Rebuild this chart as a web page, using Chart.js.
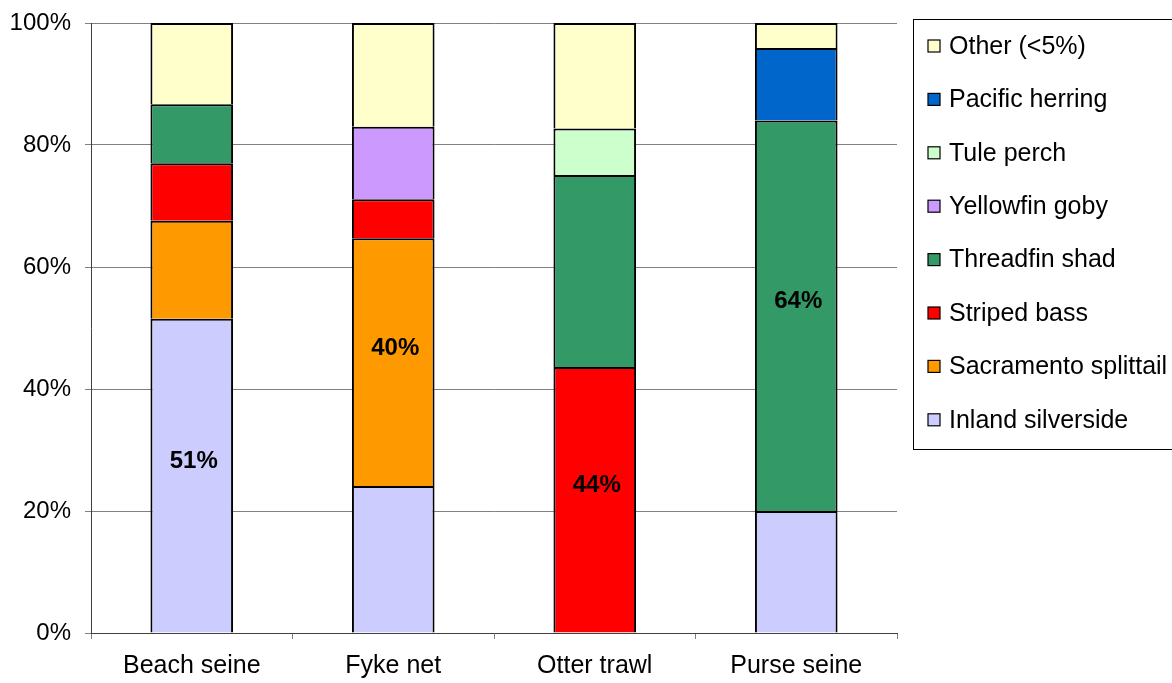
<!DOCTYPE html>
<html>
<head>
<meta charset="utf-8">
<script src="https://cdn.jsdelivr.net/npm/chart.js@4"></script>
<style>
    html, body { margin: 0; padding: 0; background: #fff; }
    #wrap { width: 1172px; height: 683px; }
</style>
</head>
<body>
<div id="wrap"><canvas id="catch-chart" width="1172" height="683"></canvas></div>
<script>
// Species composition by gear type (% of catch)
const gears = ['Beach seine', 'Fyke net', 'Otter trawl', 'Purse seine'];

const inlandSilverside    = [51.5, 24.1, null, 20.0];
const sacramentoSplittail = [16.1, 40.6, null, null];
const stripedBass         = [9.4, 6.4, 43.6, null];
const threadfinShad       = [9.7, null, 31.5, 64.0];
const yellowfinGoby       = [null, 11.9, null, null];
const tulePerch           = [null, null, 7.6, null];
const pacificHerring      = [null, null, null, 11.9];
const otherSpecies        = [13.3, 17.0, 17.3, 4.1];

const yTicks = [0, 20, 40, 60, 80, 100];

// bold labels: which species segment is labelled in each gear column
const labelSeries = [0, 1, 2, 3];
const labelTexts  = ['51%', '40%', '44%', '64%'];

const FONT = '"Liberation Sans", Arial, sans-serif';

const series = [
    { label: 'Inland silverside',    data: inlandSilverside,    color: '#CCCCFF' },
    { label: 'Sacramento splittail', data: sacramentoSplittail, color: '#FF9900' },
    { label: 'Striped bass',         data: stripedBass,         color: '#FF0000' },
    { label: 'Threadfin shad',       data: threadfinShad,       color: '#339966' },
    { label: 'Yellowfin goby',       data: yellowfinGoby,       color: '#CC99FF' },
    { label: 'Tule perch',           data: tulePerch,           color: '#CCFFCC' },
    { label: 'Pacific herring',      data: pacificHerring,      color: '#0066CC' },
    { label: 'Other (<5%)',          data: otherSpecies,        color: '#FFFFCC' }
];

// Draws the bold percentage labels inside the main segments
const segmentLabels = {
    id: 'segmentLabels',
    afterDatasetsDraw(chart) {
        const ctx = chart.ctx;
        ctx.save();
        ctx.font = 'bold 24px ' + FONT;
        ctx.fillStyle = '#000';
        ctx.textAlign = 'center';
        ctx.textBaseline = 'middle';
        labelSeries.forEach((ds, i) => {
            const bar = chart.getDatasetMeta(ds).data[i];
            if (!bar) return;
            const p = bar.getCenterPoint();
            ctx.fillText(labelTexts[i], p.x + 2, p.y - 14);
        });
        ctx.restore();
    }
};

// Boxed legend on the right, topmost series first
const boxLegend = {
    id: 'boxLegend',
    afterDraw(chart) {
        const ctx = chart.ctx;
        const left = chart.chartArea.right + 16;
        const top = 19;
        ctx.save();
        ctx.strokeStyle = '#000';
        ctx.lineWidth = 1;
        ctx.strokeRect(left + 0.5, top + 0.5, 400, 430);
        ctx.font = '25px ' + FONT;
        ctx.textBaseline = 'middle';
        const items = chart.data.datasets.slice().reverse();
        items.forEach((ds, i) => {
            const y = 46 + i * 53.4;
            ctx.fillStyle = ds.backgroundColor;
            ctx.fillRect(left + 15, y - 6, 12, 12);
            ctx.strokeStyle = '#000';
            ctx.lineWidth = 1.2;
            ctx.strokeRect(left + 15, y - 6, 12, 12);
            ctx.fillStyle = '#000';
            ctx.fillText(ds.label, left + 36, y + 1);
        });
        ctx.restore();
    }
};

const ctx = document.getElementById('catch-chart').getContext('2d');
const catchChart = new Chart(ctx, {
    type: 'bar',
    data: {
        labels: gears,
        datasets: series.map(s => ({
            label: s.label,
            data: s.data,
            backgroundColor: s.color,
            borderColor: '#000',
            borderWidth: 2,
            categoryPercentage: 1,
            barPercentage: 0.41
        }))
    },
    options: {
        responsive: false,
        animation: false,
        devicePixelRatio: 1,
        layout: { padding: { left: 10, top: 23, right: 275, bottom: 0 } },
        plugins: {
            legend: { display: false },
            tooltip: { enabled: false }
        },
        scales: {
            x: {
                stacked: true,
                afterFit: (scale) => { scale.height = 50; },
                grid: {
                    offset: true,
                    drawOnChartArea: false,
                    drawTicks: true,
                    tickLength: 6,
                    color: '#808080'
                },
                border: { color: '#404040', width: 1 },
                ticks: {
                    color: '#000',
                    padding: 12,
                    font: { family: FONT, size: 25 }
                }
            },
            y: {
                stacked: true,
                min: 0,
                max: 100,
                afterFit: (scale) => {
                    scale.width = 81;
                    scale.paddingTop = 0;
                    scale.paddingBottom = 0;
                },
                afterBuildTicks: (scale) => { scale.ticks = yTicks.map(v => ({ value: v })); },
                grid: {
                    color: '#808080',
                    lineWidth: 1,
                    tickLength: 6
                },
                border: { color: '#404040', width: 1 },
                ticks: {
                    color: '#000',
                    padding: 14,
                    font: { family: FONT, size: 24 },
                    callback: v => v + '%'
                }
            }
        }
    },
    plugins: [segmentLabels, boxLegend]
});
</script>
</body>
</html>
